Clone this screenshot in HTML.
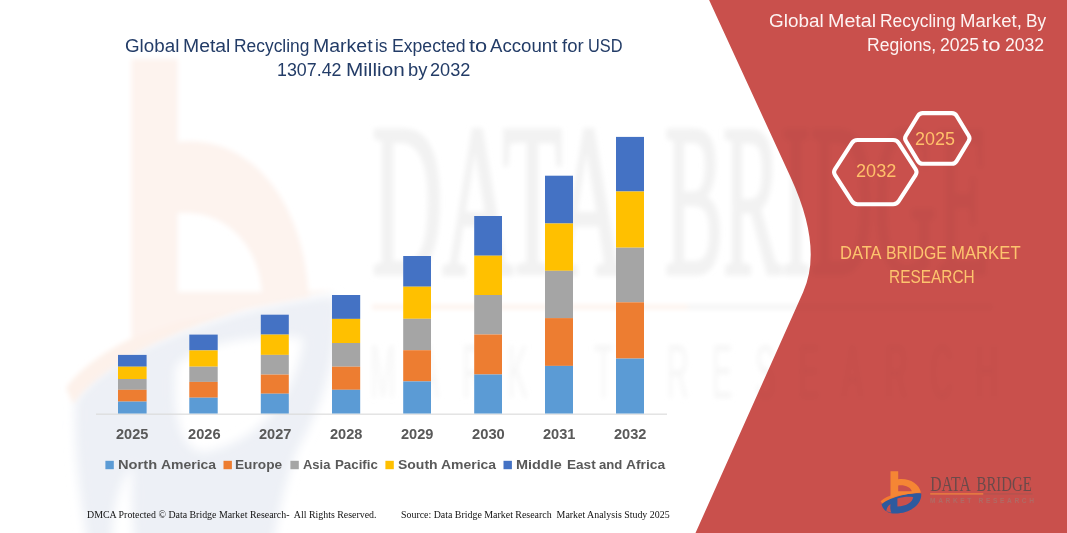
<!DOCTYPE html><html><head><meta charset="utf-8"><title>Global Metal Recycling Market</title><style>
html,body{margin:0;padding:0;background:#fff}
#c{position:relative;width:1067px;height:533px;overflow:hidden;background:#fff;font-family:'Liberation Sans', sans-serif}
.t{position:absolute;white-space:nowrap;line-height:1;transform-origin:0 0;margin:0;padding:0}
svg{position:absolute;left:0;top:0}
</style></head><body><div id="c">
<svg width="1067" height="533" viewBox="0 0 1067 533">
<defs><filter id="bl" x="-5%" y="-5%" width="110%" height="110%"><feGaussianBlur stdDeviation="2.8"/></filter><filter id="bl2" x="-10%" y="-10%" width="120%" height="120%"><feGaussianBlur stdDeviation="4.5"/></filter></defs>
<g id="wm" filter="url(#bl)">
<path d="M75,402 C108,347 250,302 336,296 C339,350 326,400 297,450 C286,480 279,510 273,545 L88,545 C80,500 74,450 75,402 Z M176,366 C200,340 270,333 303,338 C300,380 270,440 205,452 C182,452 172,420 176,366 Z M112,545 C112,512 118,482 133,466 C131,490 132,520 135,545 Z" fill="#EDF0F6" fill-rule="evenodd" filter="url(#bl2)"/>
<path d="M66,388 C108,330 240,293 338,290 C250,301 120,342 73,404 Z" fill="#FDF1EA"/>
<path d="M131.5,59 H177.7 V142 C250,134 304,200 309,297 L177.7,322 L131.5,338 Z M177.7,213 C226,209 259,246 262,292 L177.7,292 Z" fill="#FDF3EE" fill-rule="evenodd"/>
<g fill="#F2F2F2" color="#F2F2F2">
<text x="372" y="273" stroke-width="2.2" stroke="currentColor" font-family="Liberation Serif, serif" font-size="100" textLength="253" lengthAdjust="spacingAndGlyphs" transform="translate(0,273) scale(1,2.17) translate(0,-273)">DATA</text>
<text x="665" y="273" stroke-width="2.2" stroke="currentColor" font-family="Liberation Serif, serif" font-size="100" textLength="325" lengthAdjust="spacingAndGlyphs" transform="translate(0,273) scale(1,2.17) translate(0,-273)">BRIDGE</text>
<rect x="688" y="305" width="304" height="4"/>
<text x="370" y="398" opacity="0.7" font-family="Liberation Sans, sans-serif" font-weight="400" font-size="31" textLength="628" lengthAdjust="spacing" transform="translate(0,398) scale(1,2.45) translate(0,-398)">MARKET RESEARCH</text>
</g>
<rect x="372" y="305" width="316" height="4" fill="#FDF1EA"/>
</g>
<path id="panel" d="M709.1,0 L790.75,177.5 Q823,247.8 803.2,292 L695.5,533 L1067,533 L1067,0 Z" fill="#C9504C"/>
<clipPath id="pc"><path d="M709.1,0 L790.75,177.5 Q823,247.8 803.2,292 L695.5,533 L1067,533 L1067,0 Z"/></clipPath>
<g clip-path="url(#pc)"><g filter="url(#bl)"><g fill="#000" color="#000" opacity="0.03">
<text x="372" y="273" stroke-width="2.2" stroke="currentColor" font-family="Liberation Serif, serif" font-size="100" textLength="253" lengthAdjust="spacingAndGlyphs" transform="translate(0,273) scale(1,2.17) translate(0,-273)">DATA</text>
<text x="665" y="273" stroke-width="2.2" stroke="currentColor" font-family="Liberation Serif, serif" font-size="100" textLength="325" lengthAdjust="spacingAndGlyphs" transform="translate(0,273) scale(1,2.17) translate(0,-273)">BRIDGE</text>
<rect x="688" y="305" width="304" height="4"/>
<text x="370" y="398" opacity="0.7" font-family="Liberation Sans, sans-serif" font-weight="400" font-size="31" textLength="628" lengthAdjust="spacing" transform="translate(0,398) scale(1,2.45) translate(0,-398)">MARKET RESEARCH</text>
</g></g></g>
<rect x="96" y="413.6" width="571" height="1.1" fill="#D9D9D9"/>
<rect x="118.0" y="354.9" width="28.6" height="11.8" fill="#4472C4"/>
<rect x="118.0" y="366.7" width="28.6" height="12.3" fill="#FFC000"/>
<rect x="118.0" y="379.0" width="28.6" height="10.8" fill="#A5A5A5"/>
<rect x="118.0" y="389.8" width="28.6" height="11.8" fill="#ED7D31"/>
<rect x="118.0" y="401.6" width="28.6" height="11.9" fill="#5B9BD5"/>
<rect x="189.3" y="334.6" width="28.4" height="15.8" fill="#4472C4"/>
<rect x="189.3" y="350.4" width="28.4" height="16.3" fill="#FFC000"/>
<rect x="189.3" y="366.7" width="28.4" height="15.2" fill="#A5A5A5"/>
<rect x="189.3" y="381.9" width="28.4" height="15.8" fill="#ED7D31"/>
<rect x="189.3" y="397.7" width="28.4" height="15.8" fill="#5B9BD5"/>
<rect x="260.8" y="314.7" width="28.0" height="19.9" fill="#4472C4"/>
<rect x="260.8" y="334.6" width="28.0" height="20.3" fill="#FFC000"/>
<rect x="260.8" y="354.9" width="28.0" height="19.7" fill="#A5A5A5"/>
<rect x="260.8" y="374.6" width="28.0" height="19.1" fill="#ED7D31"/>
<rect x="260.8" y="393.7" width="28.0" height="19.8" fill="#5B9BD5"/>
<rect x="332.0" y="295.0" width="28.2" height="23.9" fill="#4472C4"/>
<rect x="332.0" y="318.9" width="28.2" height="24.1" fill="#FFC000"/>
<rect x="332.0" y="343.0" width="28.2" height="23.7" fill="#A5A5A5"/>
<rect x="332.0" y="366.7" width="28.2" height="23.1" fill="#ED7D31"/>
<rect x="332.0" y="389.8" width="28.2" height="23.7" fill="#5B9BD5"/>
<rect x="403.2" y="256.0" width="27.8" height="30.7" fill="#4472C4"/>
<rect x="403.2" y="286.7" width="27.8" height="32.1" fill="#FFC000"/>
<rect x="403.2" y="318.8" width="27.8" height="31.4" fill="#A5A5A5"/>
<rect x="403.2" y="350.2" width="27.8" height="31.2" fill="#ED7D31"/>
<rect x="403.2" y="381.4" width="27.8" height="32.1" fill="#5B9BD5"/>
<rect x="474.2" y="216.0" width="27.8" height="39.7" fill="#4472C4"/>
<rect x="474.2" y="255.7" width="27.8" height="39.3" fill="#FFC000"/>
<rect x="474.2" y="295.0" width="27.8" height="39.5" fill="#A5A5A5"/>
<rect x="474.2" y="334.5" width="27.8" height="40.0" fill="#ED7D31"/>
<rect x="474.2" y="374.5" width="27.8" height="39.0" fill="#5B9BD5"/>
<rect x="545.0" y="175.7" width="28.0" height="47.8" fill="#4472C4"/>
<rect x="545.0" y="223.5" width="28.0" height="47.3" fill="#FFC000"/>
<rect x="545.0" y="270.8" width="28.0" height="47.3" fill="#A5A5A5"/>
<rect x="545.0" y="318.1" width="28.0" height="47.8" fill="#ED7D31"/>
<rect x="545.0" y="365.9" width="28.0" height="47.6" fill="#5B9BD5"/>
<rect x="616.0" y="136.9" width="28.0" height="54.6" fill="#4472C4"/>
<rect x="616.0" y="191.5" width="28.0" height="56.2" fill="#FFC000"/>
<rect x="616.0" y="247.7" width="28.0" height="54.6" fill="#A5A5A5"/>
<rect x="616.0" y="302.3" width="28.0" height="56.3" fill="#ED7D31"/>
<rect x="616.0" y="358.6" width="28.0" height="54.9" fill="#5B9BD5"/>
<rect x="105.4" y="460.8" width="8.4" height="8.4" fill="#5B9BD5"/>
<rect x="223.5" y="460.8" width="8.4" height="8.4" fill="#ED7D31"/>
<rect x="290.4" y="460.8" width="8.4" height="8.4" fill="#A5A5A5"/>
<rect x="385.4" y="460.8" width="8.4" height="8.4" fill="#FFC000"/>
<rect x="503.5" y="460.8" width="8.4" height="8.4" fill="#4472C4"/>
<path d="M835.05,175.13 Q833.10,172.10 835.05,169.07 L851.85,143.03 Q853.80,140.00 857.40,140.00 L893.20,140.00 Q896.80,140.00 898.75,143.03 L915.55,169.07 Q917.50,172.10 915.55,175.13 L898.75,201.17 Q896.80,204.20 893.20,204.20 L857.40,204.20 Q853.80,204.20 851.85,201.17 Z" fill="none" stroke="#FFFFFF" stroke-width="4.1" stroke-linejoin="round"/>
<path d="M905.88,141.02 Q904.30,138.40 905.88,135.78 L918.02,115.72 Q919.60,113.10 922.66,113.10 L951.94,113.10 Q955.00,113.10 956.58,115.72 L968.72,135.78 Q970.30,138.40 968.72,141.02 L956.58,161.08 Q955.00,163.70 951.94,163.70 L922.66,163.70 Q919.60,163.70 918.02,161.08 Z" fill="none" stroke="#FFFFFF" stroke-width="4.1" stroke-linejoin="round"/>
<g transform="translate(880,470)">
<path d="M1.6,34.6 C7,26.5 29,22.4 41.2,23.4 C42.2,33 32,43.3 15,43.6 C8.5,43.7 3,40.5 1.6,34.6 Z M17.4,28.6 C22,27 29.5,26.4 33.2,27.2 C32.4,32 27,36 17.4,36.4 Z M6.4,41.2 C6.6,37.5 8.6,35 10.6,34.2 C10,36.8 10.2,40 11.4,42.8 Z" fill="#2E5A9E" fill-rule="evenodd"/>
<path d="M0.6,31.2 C9,23.5 27,20.6 41.6,22.2 C27,23 12,26.8 2.2,33.4 Z" fill="#F47B30"/>
<path d="M10.5,1.2 H18.2 V9.2 C28,7.6 39.5,13 40.9,22.6 L18.2,25.2 L10.5,28 Z M18.2,15.4 C25,14.6 30.8,17.2 31.8,21.3 L18.2,21.3 Z" fill="#F58634" fill-rule="evenodd"/>
</g>
<text x="930.2" y="491.0" font-family="Liberation Serif, serif" font-size="20.5" fill="#6B4A4A" textLength="40.5" lengthAdjust="spacingAndGlyphs">DATA</text><text x="976.5" y="491.0" font-family="Liberation Serif, serif" font-size="20.5" fill="#6B4A4A" textLength="55.2" lengthAdjust="spacingAndGlyphs">BRIDGE</text>
<rect x="930.2" y="493.3" width="53.2" height="1.2" fill="#F0883E"/>
<rect x="983.4" y="493.3" width="49" height="1.2" fill="#B0534F"/>
<text x="930" y="502.8" font-family="Liberation Sans, sans-serif" font-size="6.6" font-weight="700" fill="#B06A64" textLength="104" lengthAdjust="spacing">MARKET RESEARCH</text>
</svg>
<div class="t" id="t1_0" style="left:124.80px;top:37.00px;font-family:'Liberation Sans', sans-serif;font-weight:400;font-size:18px;color:#233C67;transform:scaleX(1.0436)">Global</div>
<div class="t" id="t1_1" style="left:182.80px;top:37.00px;font-family:'Liberation Sans', sans-serif;font-weight:400;font-size:18px;color:#233C67;transform:scaleX(1.0769)">Metal</div>
<div class="t" id="t1_2" style="left:234.00px;top:37.00px;font-family:'Liberation Sans', sans-serif;font-weight:400;font-size:18px;color:#233C67;transform:scaleX(0.9663)">Recycling</div>
<div class="t" id="t1_3" style="left:313.20px;top:37.00px;font-family:'Liberation Sans', sans-serif;font-weight:400;font-size:18px;color:#233C67;transform:scaleX(1.0833)">Market</div>
<div class="t" id="t1_4" style="left:375.10px;top:37.00px;font-family:'Liberation Sans', sans-serif;font-weight:400;font-size:18px;color:#233C67;transform:scaleX(0.9615)">is</div>
<div class="t" id="t1_5" style="left:392.10px;top:37.00px;font-family:'Liberation Sans', sans-serif;font-weight:400;font-size:18px;color:#233C67;transform:scaleX(0.9792)">Expected</div>
<div class="t" id="t1_6" style="left:468.90px;top:37.00px;font-family:'Liberation Sans', sans-serif;font-weight:400;font-size:18px;color:#233C67;transform:scaleX(1.2121)">to</div>
<div class="t" id="t1_7" style="left:490.30px;top:37.00px;font-family:'Liberation Sans', sans-serif;font-weight:400;font-size:18px;color:#233C67;transform:scaleX(1.0362)">Account</div>
<div class="t" id="t1_8" style="left:561.50px;top:37.00px;font-family:'Liberation Sans', sans-serif;font-weight:400;font-size:18px;color:#233C67;transform:scaleX(1.0278)">for</div>
<div class="t" id="t1_9" style="left:587.60px;top:37.00px;font-family:'Liberation Sans', sans-serif;font-weight:400;font-size:18px;color:#233C67;transform:scaleX(0.9075)">USD</div>
<div class="t" id="t2_0" style="left:277.30px;top:61.20px;font-family:'Liberation Sans', sans-serif;font-weight:400;font-size:18px;color:#233C67;transform:scaleX(0.9911)">1307.42</div>
<div class="t" id="t2_1" style="left:346.10px;top:61.20px;font-family:'Liberation Sans', sans-serif;font-weight:400;font-size:18px;color:#233C67;transform:scaleX(1.1506)">Million</div>
<div class="t" id="t2_2" style="left:408.10px;top:61.20px;font-family:'Liberation Sans', sans-serif;font-weight:400;font-size:18px;color:#233C67;transform:scaleX(1.0202)">by</div>
<div class="t" id="t2_3" style="left:430.40px;top:61.20px;font-family:'Liberation Sans', sans-serif;font-weight:400;font-size:18px;color:#233C67;transform:scaleX(1.0088)">2032</div>
<div class="t" id="r1_0" style="left:769.40px;top:12.30px;font-family:'Liberation Sans', sans-serif;font-weight:400;font-size:18px;color:#FDF3F2;transform:scaleX(1.0494)">Global</div>
<div class="t" id="r1_1" style="left:828.40px;top:12.30px;font-family:'Liberation Sans', sans-serif;font-weight:400;font-size:18px;color:#FDF3F2;transform:scaleX(1.0928)">Metal</div>
<div class="t" id="r1_2" style="left:880.30px;top:12.30px;font-family:'Liberation Sans', sans-serif;font-weight:400;font-size:18px;color:#FDF3F2;transform:scaleX(0.9688)">Recycling</div>
<div class="t" id="r1_3" style="left:959.70px;top:12.30px;font-family:'Liberation Sans', sans-serif;font-weight:400;font-size:18px;color:#FDF3F2;transform:scaleX(1.0314)">Market,</div>
<div class="t" id="r1_4" style="left:1025.50px;top:12.30px;font-family:'Liberation Sans', sans-serif;font-weight:400;font-size:18px;color:#FDF3F2;transform:scaleX(0.9564)">By</div>
<div class="t" id="r2_0" style="left:867.20px;top:36.20px;font-family:'Liberation Sans', sans-serif;font-weight:400;font-size:18px;color:#FDF3F2;transform:scaleX(0.9740)">Regions,</div>
<div class="t" id="r2_1" style="left:940.30px;top:36.20px;font-family:'Liberation Sans', sans-serif;font-weight:400;font-size:18px;color:#FDF3F2;transform:scaleX(0.9764)">2025</div>
<div class="t" id="r2_2" style="left:982.40px;top:36.20px;font-family:'Liberation Sans', sans-serif;font-weight:400;font-size:18px;color:#FDF3F2;transform:scaleX(1.2320)">to</div>
<div class="t" id="r2_3" style="left:1005.20px;top:36.20px;font-family:'Liberation Sans', sans-serif;font-weight:400;font-size:18px;color:#FDF3F2;transform:scaleX(0.9764)">2032</div>
<div class="t" id="d1_0" style="left:840.20px;top:244.90px;font-family:'Liberation Sans', sans-serif;font-weight:400;font-size:17.5px;color:#FDC46E;transform:scaleX(0.9438)">DATA</div>
<div class="t" id="d1_1" style="left:886.00px;top:244.90px;font-family:'Liberation Sans', sans-serif;font-weight:400;font-size:17.5px;color:#FDC46E;transform:scaleX(0.9060)">BRIDGE</div>
<div class="t" id="d1_2" style="left:951.00px;top:244.90px;font-family:'Liberation Sans', sans-serif;font-weight:400;font-size:17.5px;color:#FDC46E;transform:scaleX(0.9542)">MARKET</div>
<div class="t" id="h1" style="left:855.70px;top:163.00px;font-family:'Liberation Sans', sans-serif;font-weight:400;font-size:17.5px;color:#FFC06A;transform:scaleX(1.0350)">2032</div>
<div class="t" id="h2" style="left:915.30px;top:131.40px;font-family:'Liberation Sans', sans-serif;font-weight:400;font-size:17.5px;color:#FFC06A;transform:scaleX(1.0247)">2025</div>
<div class="t" id="d2" style="left:889.10px;top:268.60px;font-family:'Liberation Sans', sans-serif;font-weight:400;font-size:17.5px;color:#FDC46E;transform:scaleX(0.8812)">RESEARCH</div>
<div class="t" id="f1" style="left:86.50px;top:510.00px;font-family:'Liberation Serif', serif;font-weight:400;font-size:10px;color:#111111;transform:scaleX(0.9887)">DMCA Protected © Data Bridge Market Research-&nbsp; All Rights Reserved.</div>
<div class="t" id="f2" style="left:401.00px;top:510.00px;font-family:'Liberation Serif', serif;font-weight:400;font-size:10px;color:#111111;transform:scaleX(0.9899)">Source: Data Bridge Market Research&nbsp; Market Analysis Study 2025</div>
<div class="t" id="y0" style="left:115.90px;top:427.00px;font-family:'Liberation Sans', sans-serif;font-weight:700;font-size:14px;color:#595959;transform:scaleX(1.0367)">2025</div>
<div class="t" id="y1" style="left:187.60px;top:427.00px;font-family:'Liberation Sans', sans-serif;font-weight:700;font-size:14px;color:#595959;transform:scaleX(1.0463)">2026</div>
<div class="t" id="y2" style="left:258.50px;top:427.00px;font-family:'Liberation Sans', sans-serif;font-weight:700;font-size:14px;color:#595959;transform:scaleX(1.0431)">2027</div>
<div class="t" id="y3" style="left:329.60px;top:427.00px;font-family:'Liberation Sans', sans-serif;font-weight:700;font-size:14px;color:#595959;transform:scaleX(1.0431)">2028</div>
<div class="t" id="y4" style="left:400.70px;top:427.00px;font-family:'Liberation Sans', sans-serif;font-weight:700;font-size:14px;color:#595959;transform:scaleX(1.0431)">2029</div>
<div class="t" id="y5" style="left:471.60px;top:427.00px;font-family:'Liberation Sans', sans-serif;font-weight:700;font-size:14px;color:#595959;transform:scaleX(1.0528)">2030</div>
<div class="t" id="y6" style="left:542.70px;top:427.00px;font-family:'Liberation Sans', sans-serif;font-weight:700;font-size:14px;color:#595959;transform:scaleX(1.0431)">2031</div>
<div class="t" id="y7" style="left:613.60px;top:427.00px;font-family:'Liberation Sans', sans-serif;font-weight:700;font-size:14px;color:#595959;transform:scaleX(1.0431)">2032</div>
<div class="t" id="l0_0" style="left:118.00px;top:458.00px;font-family:'Liberation Sans', sans-serif;font-weight:700;font-size:13.6px;color:#595959;transform:scaleX(1.0786)">North</div>
<div class="t" id="l0_1" style="left:161.00px;top:458.00px;font-family:'Liberation Sans', sans-serif;font-weight:700;font-size:13.6px;color:#595959;transform:scaleX(1.0269)">America</div>
<div class="t" id="l1_0" style="left:234.90px;top:458.00px;font-family:'Liberation Sans', sans-serif;font-weight:700;font-size:13.6px;color:#595959;transform:scaleX(1.0058)">Europe</div>
<div class="t" id="l2_0" style="left:302.90px;top:458.00px;font-family:'Liberation Sans', sans-serif;font-weight:700;font-size:13.6px;color:#595959;transform:scaleX(0.9541)">Asia</div>
<div class="t" id="l2_1" style="left:334.90px;top:458.00px;font-family:'Liberation Sans', sans-serif;font-weight:700;font-size:13.6px;color:#595959;transform:scaleX(0.9788)">Pacific</div>
<div class="t" id="l3_0" style="left:397.50px;top:458.00px;font-family:'Liberation Sans', sans-serif;font-weight:700;font-size:13.6px;color:#595959;transform:scaleX(1.0282)">South</div>
<div class="t" id="l3_1" style="left:441.00px;top:458.00px;font-family:'Liberation Sans', sans-serif;font-weight:700;font-size:13.6px;color:#595959;transform:scaleX(1.0269)">America</div>
<div class="t" id="l4_0" style="left:515.70px;top:458.00px;font-family:'Liberation Sans', sans-serif;font-weight:700;font-size:13.6px;color:#595959;transform:scaleX(1.0616)">Middle</div>
<div class="t" id="l4_1" style="left:566.60px;top:458.00px;font-family:'Liberation Sans', sans-serif;font-weight:700;font-size:13.6px;color:#595959;transform:scaleX(0.9993)">East</div>
<div class="t" id="l4_2" style="left:598.60px;top:458.00px;font-family:'Liberation Sans', sans-serif;font-weight:700;font-size:13.6px;color:#595959;transform:scaleX(0.9681)">and</div>
<div class="t" id="l4_3" style="left:626.30px;top:458.00px;font-family:'Liberation Sans', sans-serif;font-weight:700;font-size:13.6px;color:#595959;transform:scaleX(1.0174)">Africa</div>
</div></body></html>
